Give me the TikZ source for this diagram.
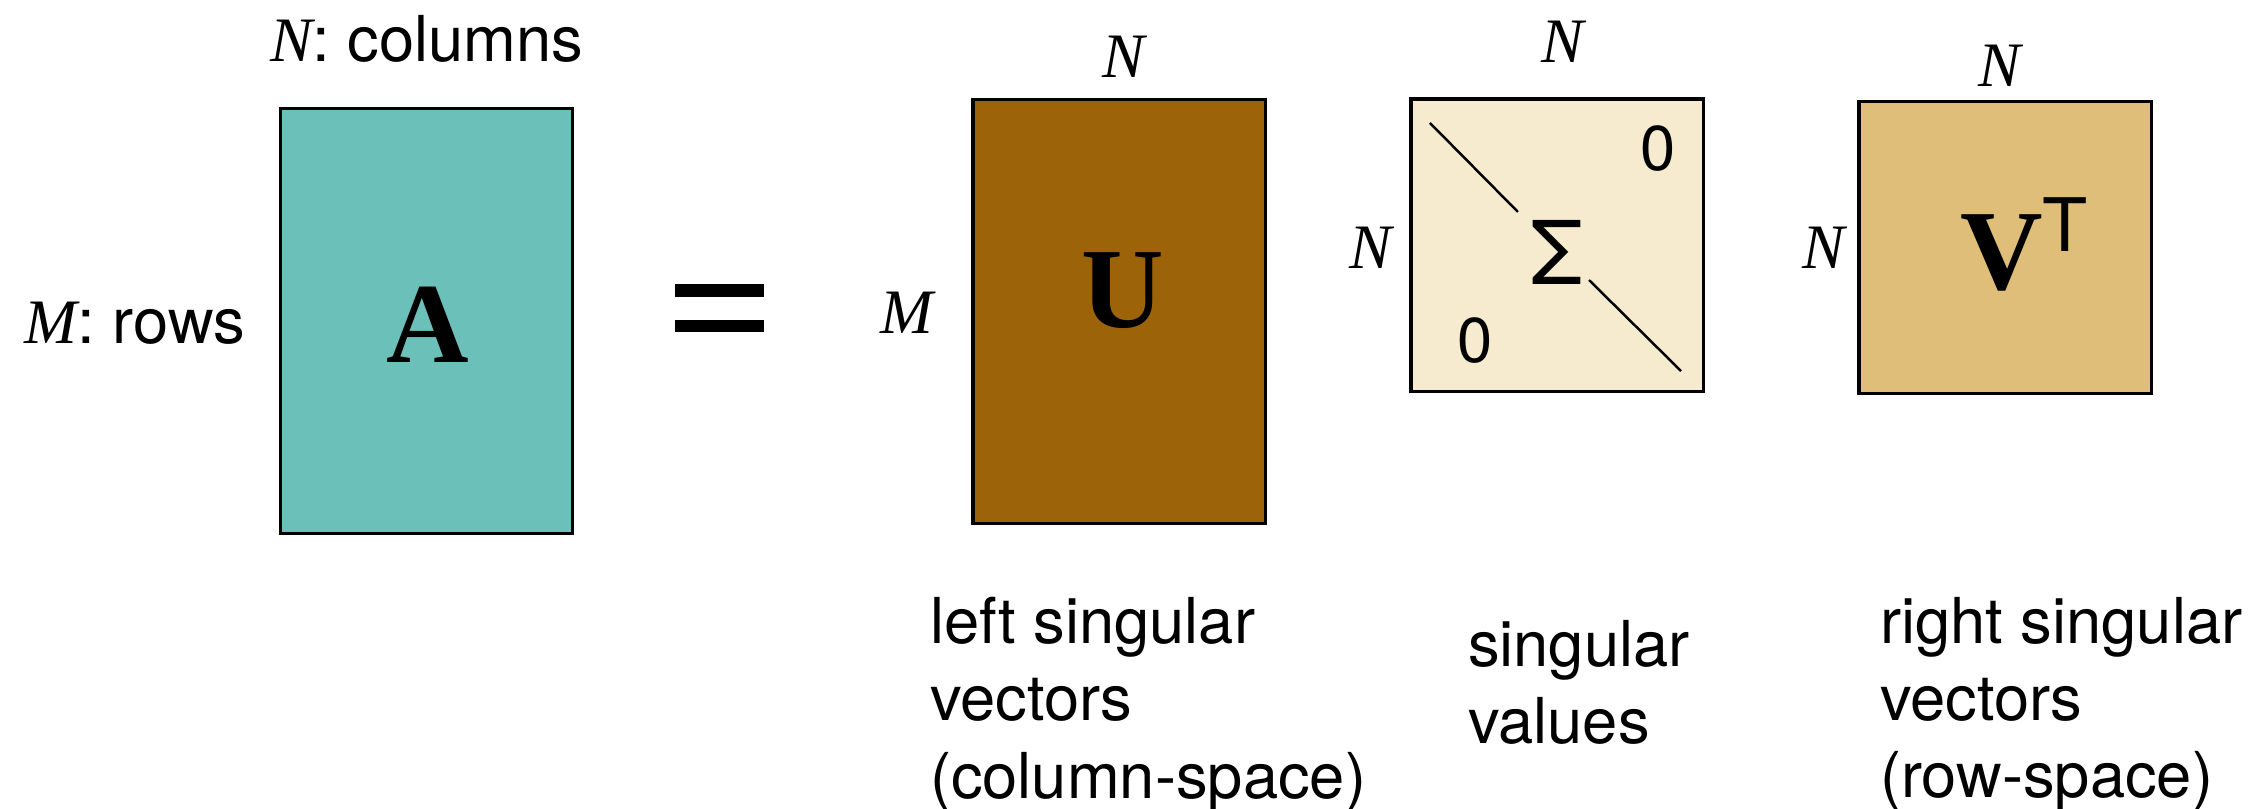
\documentclass[tikz,border=0pt]{standalone}
\usepackage{fontspec}
\setmainfont{TeX Gyre Heros}
\newfontfamily\tms{Liberation Serif}
\usetikzlibrary{positioning,calc}

\definecolor{matA}{RGB}{107,192,185}
\definecolor{matU}{RGB}{157,99,8}
\definecolor{matS}{RGB}{246,235,206}
\definecolor{matV}{RGB}{223,190,122}

\newcommand{\mv}[1]{{\tms\itshape #1}}
\newcommand{\mb}[1]{{\tms\bfseries #1}}

\begin{document}
\begin{tikzpicture}[
  x=0.01cm, y=-0.01cm,
  every node/.style={inner sep=0pt, outer sep=0pt},
  lbl/.style  ={font=\fontsize{18}{22}\selectfont},
  txt/.style  ={font=\fontsize{18}{22}\selectfont, align=left, anchor=north west},
  mat/.style  ={rectangle, draw=black, line width=0.9pt, minimum width=2.92cm},
  tall/.style ={mat, minimum height=4.24cm},
  sq/.style   ={mat, minimum height=2.92cm},
  big/.style  ={font=\fontsize{32.5}{39}\selectfont, anchor=base},
  diag/.style ={line width=0.7pt},
]
\useasboundingbox (0,0) rectangle (2268,808);

% -------- matrices ----------------------------------------------------------
\node[tall, fill=matA] (A) at (426.5,321) {};
\node[tall, fill=matU] (U) at (1119,311.5) {};
\node[sq,   fill=matS] (S) at (1557,245) {};
\node[sq,   fill=matV] (V) at (2005,247.5) {};

% -------- letters -----------------------------------------------------------
\node[big] (Aname) at (428,362) {\mb{A}};
\node[big] (Uname) at (1123,327) {\mb{U}};
\node[big, anchor=base west] (Vname) at (1960,289)
  {\mb{V}\raisebox{0.37cm}{\fontsize{21}{25}\selectfont T}};
\node[font=\fontsize{25}{30}\selectfont, anchor=base] (Sname) at (1557,284) {Σ};
\node[lbl, anchor=base] (zTR) at (1658,170) {0};
\node[lbl, anchor=base] (zBL) at (1475,362) {0};

% diagonal of Sigma
\coordinate (d1) at ($(S.north west)+(19,24)$);
\coordinate (d2) at ($(S.north west)+(107,113)$);
\coordinate (d3) at ($(S.south east)+(-114,-111)$);
\coordinate (d4) at ($(S.south east)+(-22,-20)$);
\draw[diag] (d1) -- (d2);
\draw[diag] (d3) -- (d4);

% -------- equals ------------------------------------------------------------
\fill (675,284) rectangle (764,297);
\fill (675,320) rectangle (764,332);

% -------- dimensions --------------------------------------------------------
\node[lbl, anchor=base] (cols) at (427,61) {\mv{N}: columns};
\node[lbl, anchor=base east] (rows) at (245,343) {\mv{M}: rows};
\node[lbl, anchor=base] (Um) at (907,333) {\mv{M}};
\node[lbl, anchor=base] (Un) at (1124,77) {\mv{N}};
\node[lbl, anchor=base] (Sn) at (1563,62) {\mv{N}};
\node[lbl, anchor=base] (Sl) at (1371,268) {\mv{N}};
\node[lbl, anchor=base] (Vn) at (2000,86) {\mv{N}};
\node[lbl, anchor=base] (Vl) at (1824,268) {\mv{N}};

% -------- captions ----------------------------------------------------------
\node[txt] (capU) at (930,597) {left singular\\vectors\\(column-space)};
\node[txt] (capS) at (1468,620) {singular\\values};
\node[txt] (capV) at (1880,597) {right singular\\vectors\\(row-space)};

\end{tikzpicture}
\end{document}
